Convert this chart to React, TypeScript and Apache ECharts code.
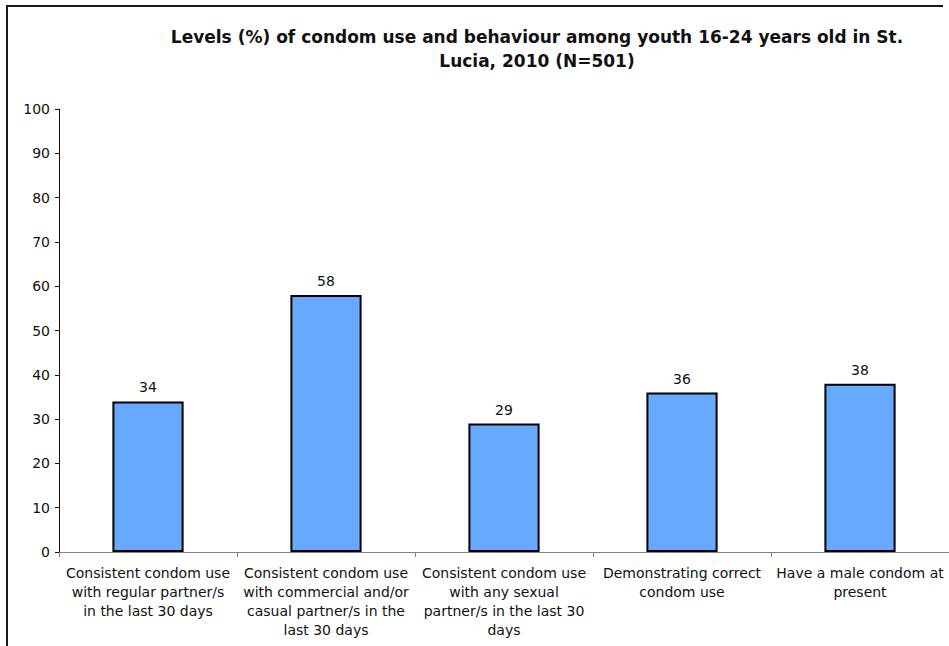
import React, { useEffect, useRef } from "react";
import * as echarts from "echarts";

const categories = [
  "Consistent condom use\nwith regular partner/s\nin the last 30 days",
  "Consistent condom use\nwith commercial and/or\ncasual partner/s in the\nlast 30 days",
  "Consistent condom use\nwith any sexual\npartner/s in the last 30\ndays",
  "Demonstrating correct\ncondom use",
  "Have a male condom at\npresent",
];
const values = [34, 58, 29, 36, 38];
const titleText =
  "Levels (%) of condom use and behaviour among youth 16-24 years old in St.\nLucia, 2010 (N=501)";

const FONT = "DejaVu Sans, Verdana, sans-serif";

export default function App() {
  const ref = useRef<HTMLDivElement>(null);

  useEffect(() => {
    if (!ref.current) return;
    const chart = echarts.init(ref.current, undefined, { renderer: "svg" });
    chart.setOption({
      animation: false,
      backgroundColor: "#ffffff",
      textStyle: { fontFamily: FONT },
      graphic: [
        {
          type: "line",
          z: 100,
          shape: { x1: 7, y1: 6, x2: 7, y2: 646 },
          style: { stroke: "#1a1a1a", lineWidth: 2 },
        },
        {
          type: "line",
          z: 100,
          shape: { x1: 6, y1: 6, x2: 943, y2: 6 },
          style: { stroke: "#1a1a1a", lineWidth: 2 },
        },
      ],
      title: {
        text: titleText,
        left: 532,
        top: 20,
        textAlign: "center",
        textStyle: {
          fontFamily: FONT,
          fontSize: 17,
          fontWeight: "bold",
          color: "#111",
          lineHeight: 24,
        },
      },
      grid: { left: 59, right: 0, top: 109, bottom: 94, containLabel: false },
      xAxis: {
        type: "category",
        data: categories,
        axisLine: { lineStyle: { color: "#808080", width: 1 } },
        axisTick: { show: true, length: 5, lineStyle: { color: "#808080" } },
        axisLabel: {
          interval: 0,
          color: "#111",
          fontFamily: FONT,
          fontSize: 14,
          lineHeight: 19,
          margin: 11,
        },
        splitLine: { show: false },
      },
      yAxis: {
        type: "value",
        min: 0,
        max: 100,
        interval: 10,
        axisLine: { show: true, lineStyle: { color: "#111", width: 1 } },
        axisTick: { show: true, inside: false, length: 4, lineStyle: { color: "#111" } },
        axisLabel: { color: "#111", fontFamily: FONT, fontSize: 14, margin: 9 },
        splitLine: { show: false },
      },
      series: [
        {
          type: "bar",
          data: values,
          barWidth: "40%",
          itemStyle: { color: "#66a9ff", borderColor: "#000", borderWidth: 2 },
          label: {
            show: true,
            position: "top",
            distance: 7,
            color: "#111",
            fontFamily: FONT,
            fontSize: 14,
          },
        },
      ],
    });
    return () => chart.dispose();
  }, []);

  return (
    <div
      ref={ref}
      style={{ width: 949, height: 646, position: "absolute", left: 0, top: 0 }}
    />
  );
}
